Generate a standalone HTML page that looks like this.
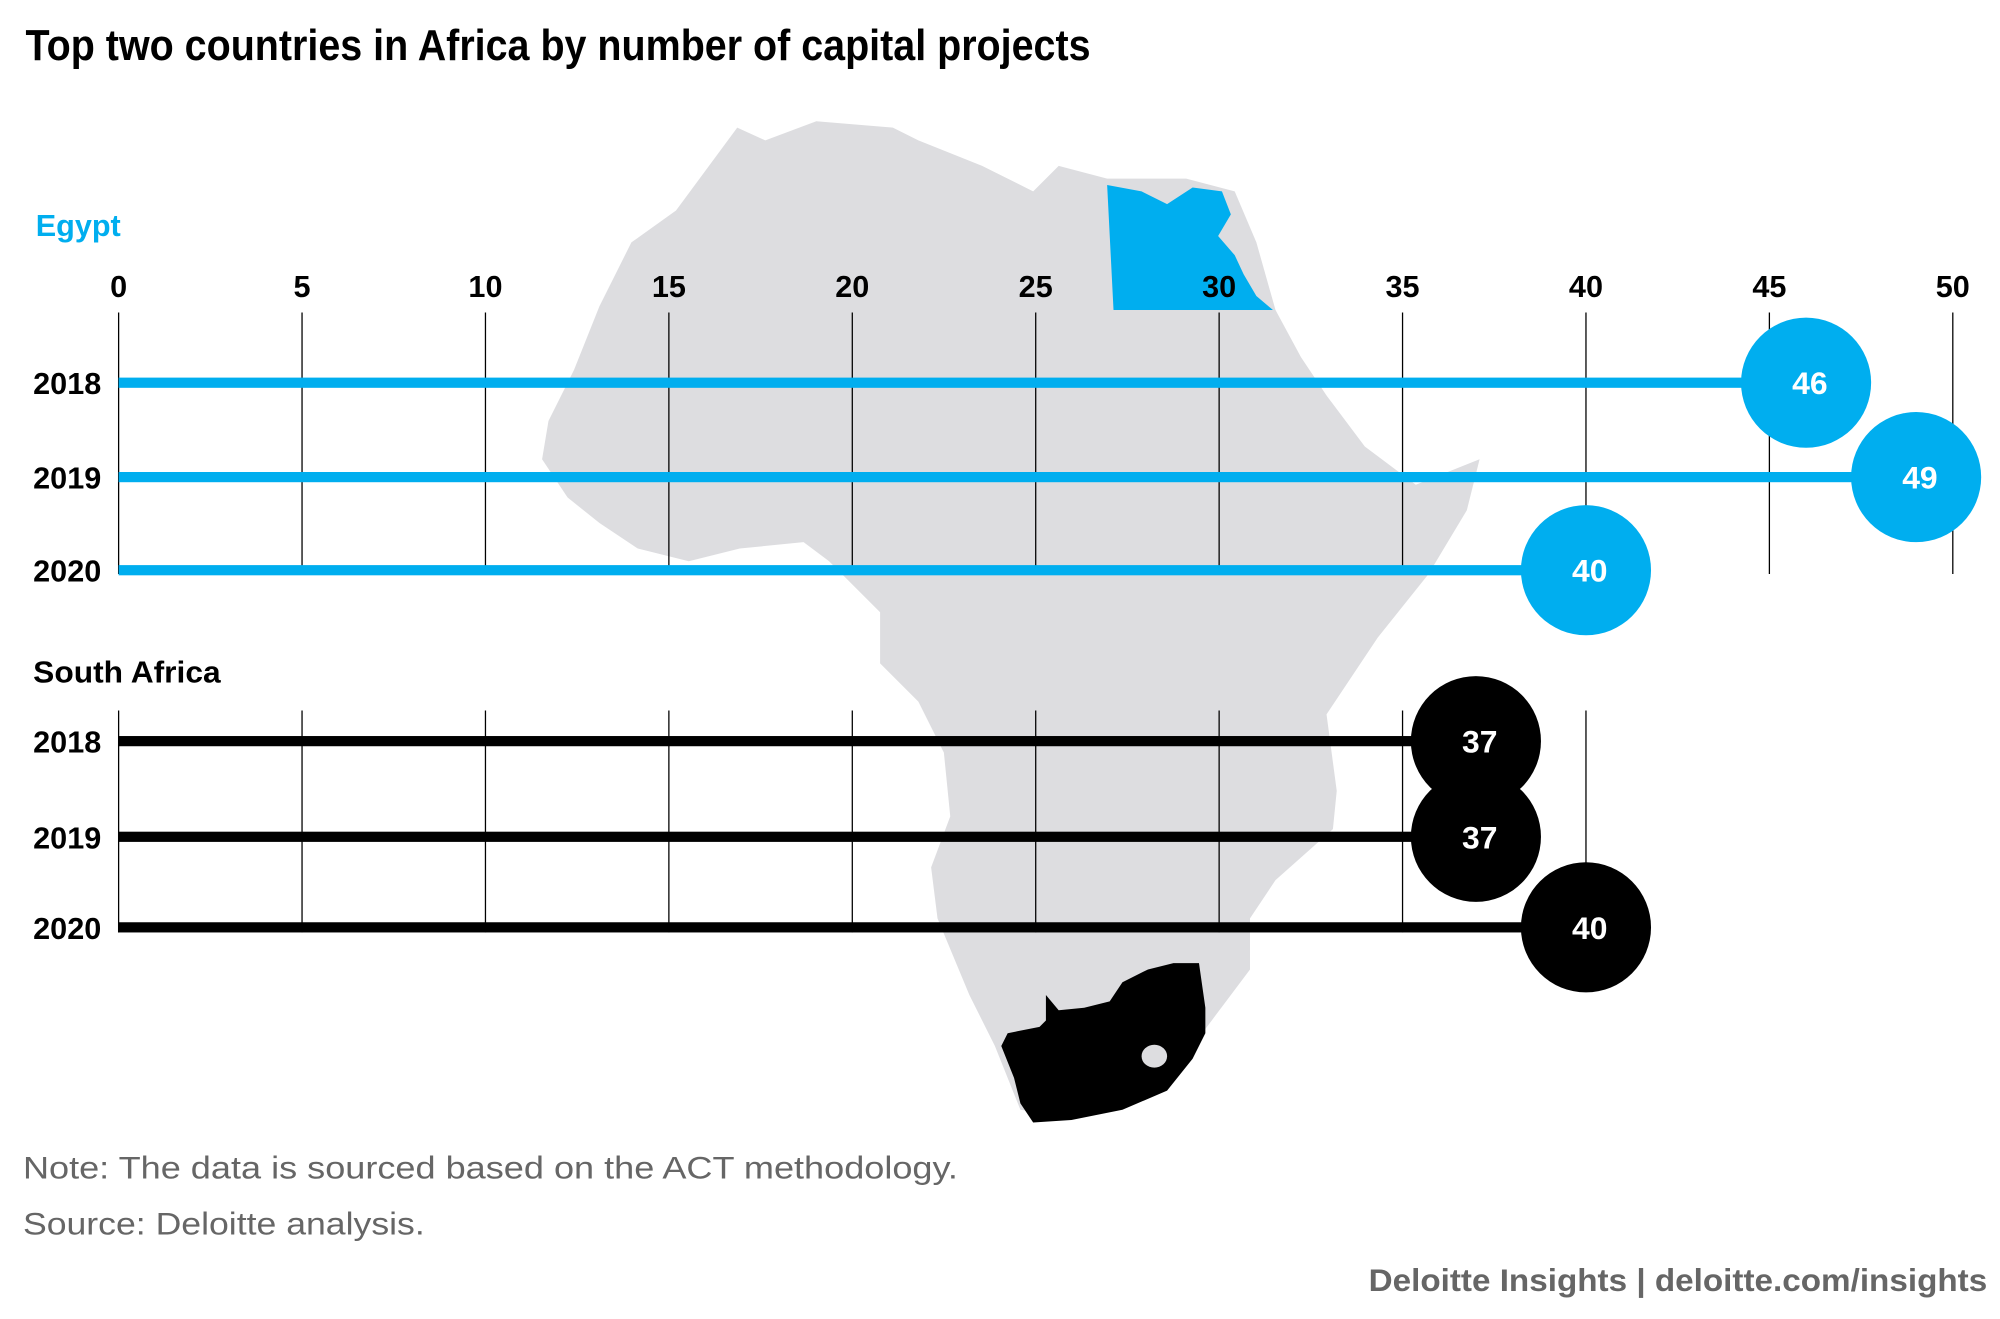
<!DOCTYPE html>
<html><head><meta charset="utf-8">
<style>
html,body{margin:0;padding:0;background:#fff;}
svg{display:block;}
text{font-family:"Liberation Sans Narrow","Liberation Sans",sans-serif;}
</style></head>
<body>
<svg id="chart" width="2000" height="1319" viewBox="0 0 1568 1034" xmlns="http://www.w3.org/2000/svg">
<g>
<polygon fill="#dddde0" points="578,100 530,165 495,190 470,240 450,290 430,330 425,360 445,390 470,410 500,430 540,440 580,430 630,425 650,440 670,460 690,480 690,520 720,550 740,590 745,640 730,680 735,720 760,780 780,820 800,870 830,875 880,860 920,840 950,800 980,760 980,720 1000,690 1045,650 1048,620 1040,560 1080,500 1120,450 1150,400 1160,360 1110,380 1070,350 1040,310 1020,280 1000,243 985,190 968,150 930,140 868,140 830,130 810,150 770,130 720,110 700,100 640,95 600,110"/>
<polygon fill="#00aeef" points="868,145 895,150 915,160 935,147 958,150 965,168 955,185 968,200 975,215 985,232 998,243 873,243"/>
<polygon fill="#000" points="820,780 830,792 850,790 870,785 880,770 900,760 920,755 940,755 945,790 945,810 935,830 915,855 880,870 840,878 810,880 800,865 795,845 785,820 790,810 815,805 820,800"/>
<ellipse cx="905" cy="828" rx="10" ry="9" fill="#dddde0"/>
</g>
<text x="20" y="47" font-size="34" font-weight="bold" fill="#000" textLength="835" lengthAdjust="spacingAndGlyphs">Top two countries in Africa by number of capital projects</text>
<text x="28" y="185" font-size="24" font-weight="bold" fill="#00aeef">Egypt</text>
<text x="26" y="535" font-size="24" font-weight="bold" fill="#000" textLength="147" lengthAdjust="spacingAndGlyphs">South Africa</text>
<g id="plot"></g>
<text x="18" y="924" font-size="25" fill="#666" style="font-family:'Liberation Sans',sans-serif" textLength="733" lengthAdjust="spacingAndGlyphs">Note: The data is sourced based on the ACT methodology.</text>
<text x="18" y="968" font-size="25" fill="#666" style="font-family:'Liberation Sans',sans-serif" textLength="315" lengthAdjust="spacingAndGlyphs">Source: Deloitte analysis.</text>
<text x="1558" y="1012" text-anchor="end" font-size="25" font-weight="bold" fill="#666" style="font-family:'Liberation Sans',sans-serif" textLength="485" lengthAdjust="spacingAndGlyphs">Deloitte Insights | deloitte.com/insights</text>
</svg>
<script>
const years = ["2018","2019","2020"];
const egyptValues = [46,49,40];
const southAfricaValues = [37,37,40];
const tickValues = [0,5,10,15,20,25,30,35,40,45,50];
const saTickValues = [0,5,10,15,20,25,30,35,40];

const NS = "http://www.w3.org/2000/svg";
const plot = document.getElementById("plot");
const x0 = 93, x1 = 1531, vMax = 50;
function xScale(v){ return x0 + (v / vMax) * (x1 - x0); }
function mk(tag, attrs){
  const e = document.createElementNS(NS, tag);
  for (const k in attrs) e.setAttribute(k, attrs[k]);
  return e;
}
function panel(values, ticks, color, gridTop, gridBottom, rowYs, showTickLabels, prefix){
  ticks.forEach(t => {
    const l = mk("line", {x1: xScale(t), x2: xScale(t), y1: gridTop, y2: gridBottom, stroke: "#000", "stroke-width": 1});
    
    
    plot.appendChild(l);
    if (showTickLabels) {
      const tx = mk("text", {x: xScale(t), y: 233, "text-anchor": "middle", "font-size": 24, "font-weight": "bold", fill: "#000"});
      tx.textContent = t;
      
      
      plot.appendChild(tx);
    }
  });
  values.forEach((v, i) => {
    const y = rowYs[i];
    const yl = mk("text", {x: 26, y: y + 9, "font-size": 24, "font-weight": "bold", fill: "#000"});
    yl.textContent = years[i];
    
    
    plot.appendChild(yl);
    const bar = mk("rect", {x: x0, y: y - 4, width: xScale(v) - x0, height: 8, fill: color});
    
    
    plot.appendChild(bar);
    const c = mk("circle", {cx: xScale(v), cy: y, r: 51, fill: color});
    
    
    plot.appendChild(c);
    const vl = mk("text", {x: xScale(v) + 3, y: y + 9, "text-anchor": "middle", "font-size": 25, "font-weight": "bold", fill: "#fff"});
    vl.textContent = v;
    
    
    plot.appendChild(vl);
  });
}
panel(egyptValues, tickValues, "#00aeef", 245, 450, [300, 374, 447], true, "egypt");
panel(southAfricaValues, saTickValues, "#000", 557, 731, [581, 656, 727], false, "south-africa");
</script>
</body></html>
